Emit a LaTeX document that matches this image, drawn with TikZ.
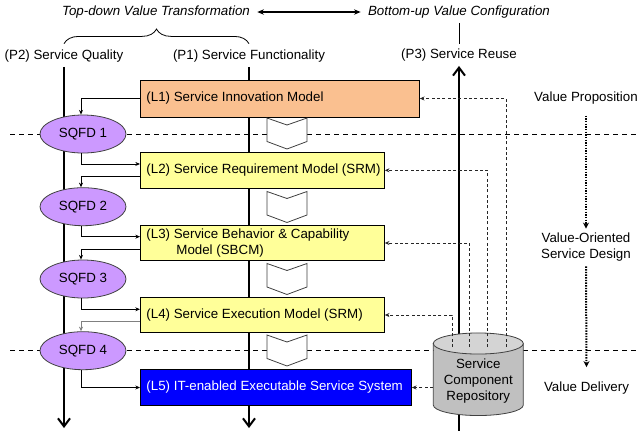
\documentclass[tikz,border=0pt]{standalone}
\usepackage{fontspec}
\setmainfont{Liberation Sans}
\usetikzlibrary{arrows.meta,decorations.pathreplacing,shapes.geometric}
\definecolor{innov}{HTML}{FAC090}
\definecolor{model}{HTML}{FFFF99}
\definecolor{itsys}{HTML}{0000FF}
\definecolor{sqfdfill}{HTML}{CC99FF}
\definecolor{repobody}{HTML}{C0C0C0}
\definecolor{repotop}{HTML}{D4D4D4}
\newcommand{\lpad}{\hspace*{4.5pt}}
\begin{document}
\begin{tikzpicture}[x=0.75pt, y=-0.75pt,
  every node/.style={font=\fontsize{10}{12}\selectfont},
  italiclabel/.style={font=\fontsize{10}{12}\selectfont\itshape},
  layerbox/.style={draw=black, line width=0.6pt, anchor=west,
    align={flush left}, inner xsep=0pt, inner ysep=1pt},
  sqfdnode/.style={ellipse, draw=black!75, fill=sqfdfill, line width=0.6pt,
    minimum width=64.5pt, minimum height=28.5pt, inner sep=0pt},
  pillar/.style={line width=1.5pt, -{Straight Barb[length=6pt,width=9pt]}},
  link/.style={line width=0.6pt, -{Stealth[length=3.5pt,width=3pt]}},
  reuselink/.style={line width=0.6pt, draw=black!85, dash pattern=on 2.2pt off 1.8pt,
    -{Stealth[length=3.5pt,width=3pt]}},
  phase/.style={line width=0.75pt, dash pattern=on 3.75pt off 3pt},
  chev/.style={draw=black!75, fill=white, line width=0.6pt},
  flowarrow/.style={line width=1.5pt, dash pattern=on 1.1pt off 0.9pt,
    -{Stealth[length=4.5pt,width=4.5pt]}}]

\useasboundingbox (0,0) rectangle (637,430);

% phase separators
\draw[phase] (10,134) -- (637,134);
\draw[phase] (10,350.7) -- (637,350.7);

% headings
\node[italiclabel] (TD) at (156,12) {Top-down Value Transformation};
\node[italiclabel] (BU) at (459,12) {Bottom-up Value Configuration};
\draw[line width=1.1pt, {Stealth[length=5pt,width=4pt]}-{Stealth[length=5pt,width=4pt]}]
  ([xshift=2pt]TD.east) -- ([xshift=-2pt]BU.west);

\node (P2) at (64,56) {(P2) Service Quality};
\node (P1) at (249,56) {(P1) Service Functionality};
\node (P3) at (459,55) {(P3) Service Reuse};
\draw[line width=0.6pt, decorate, decoration={brace, amplitude=11pt}]
  ([yshift=1pt]P2.north) -- ([yshift=1pt]P1.north);
\draw[line width=0.6pt] (BU) -- (P3);

% perspective axes
\coordinate (P2end) at (64,428);
\coordinate (P1end) at (249,428);
\coordinate (P3foot) at (459,432);
\draw[pillar] (P2) -- (P2end);
\draw[pillar] (P1) -- (P1end);
\draw[pillar] (P3foot) -- (P3);

% model layers
\node[layerbox, fill=innov, text width=209.25pt, minimum height=27.75pt] (L1) at (140,98.5)
  {\lpad(L1) Service Innovation Model};
\node[layerbox, fill=model, text width=183pt, minimum height=26.5pt] (L2) at (140,170.3)
  {\lpad(L2) Service Requirement Model (SRM)};
\node[layerbox, fill=model, text width=183pt, minimum height=26.75pt] (L3) at (140,243)
  {\lpad(L3) Service Behavior \& Capability\\\hspace*{27pt}Model (SBCM)};
\node[layerbox, fill=model, text width=183pt, minimum height=26.5pt] (L4) at (140,315)
  {\lpad(L4) Service Execution Model (SRM)};
\node[layerbox, fill=itsys, text=white, text width=203.25pt, minimum height=27.3pt] (L5) at (140,387.5)
  {\lpad(L5) IT-enabled Executable Service System};

% quality function deployment steps
\node[sqfdnode] (Q1) at (83,134) {SQFD 1};
\node[sqfdnode] (Q2) at (83,206.7) {SQFD 2};
\node[sqfdnode] (Q3) at (83,279) {SQFD 3};
\node[sqfdnode] (Q4) at (83,350.7) {SQFD 4};

% refinement chevrons
\foreach \t in {118,191.5,263.5,335}
  \draw[chev] (267,\t) -- (287,\t+7) -- (307,\t) -- (307,\t+23.5)
    -- (287,\t+31) -- (267,\t+23.5) -- cycle;

% layer <-> SQFD links
\draw[link] (L1.west) -| ([xshift=-1.5pt]Q1.north);
\draw[link] ([xshift=-1.5pt]Q1.south) |- ([yshift=4.75pt]L2.west);
\draw[link] ([yshift=-4.75pt]L2.west) -| ([xshift=-1.5pt]Q2.north);
\draw[link] ([xshift=-1.5pt]Q2.south) |- ([yshift=4.75pt]L3.west);
\draw[link] ([yshift=-4.75pt]L3.west) -| ([xshift=-1.5pt]Q3.north);
\draw[link] ([xshift=-1.5pt]Q3.south) |- ([yshift=4.3pt]L4.west);
\draw[link, draw=gray] ([yshift=-5pt]L4.west) -| ([xshift=-1.5pt]Q4.north);
\draw[link] ([xshift=-1.5pt]Q4.south) |- (L5.west);

% service component repository
\filldraw[fill=repobody, draw=black!75, line width=0.6pt]
  (433.3,343.5) -- (433.3,405)
  arc[start angle=180, end angle=360, x radius=33.75pt, y radius=7.9pt]
  -- (523.3,343.5) -- cycle;
\filldraw[fill=repotop, draw=black!75, line width=0.6pt]
  (478.3,343.5) ellipse[x radius=33.75pt, y radius=7.9pt];
\node[align=center, minimum width=67.5pt, inner sep=0pt] (repo) at (478.3,381.5)
  {Service\\Component\\Repository};

% reuse links
\coordinate (k1) at (506,347);
\coordinate (k2) at (487.7,347);
\coordinate (k3) at (469.7,347);
\coordinate (k4) at (452,347);
\draw[reuselink] (k1) |- (L1.east);
\draw[reuselink] (k2) |- (L2.east);
\draw[reuselink] (k3) |- (L3.east);
\draw[reuselink] (k4) |- (L4.east);
\draw[reuselink] (repo.west |- L5.east) -- (L5.east);

% value stages
\node (VP) at (586,98) {Value Proposition};
\node[align=center] (VOD) at (586,247.5) {Value-Oriented\\Service Design};
\node (VD) at (586.5,388) {Value Delivery};
\draw[flowarrow] ([yshift=-5pt]VP.south) -- (VOD.north);
\draw[flowarrow] (VOD.south) -- ([yshift=7.5pt]VD.north);

\end{tikzpicture}
\end{document}
